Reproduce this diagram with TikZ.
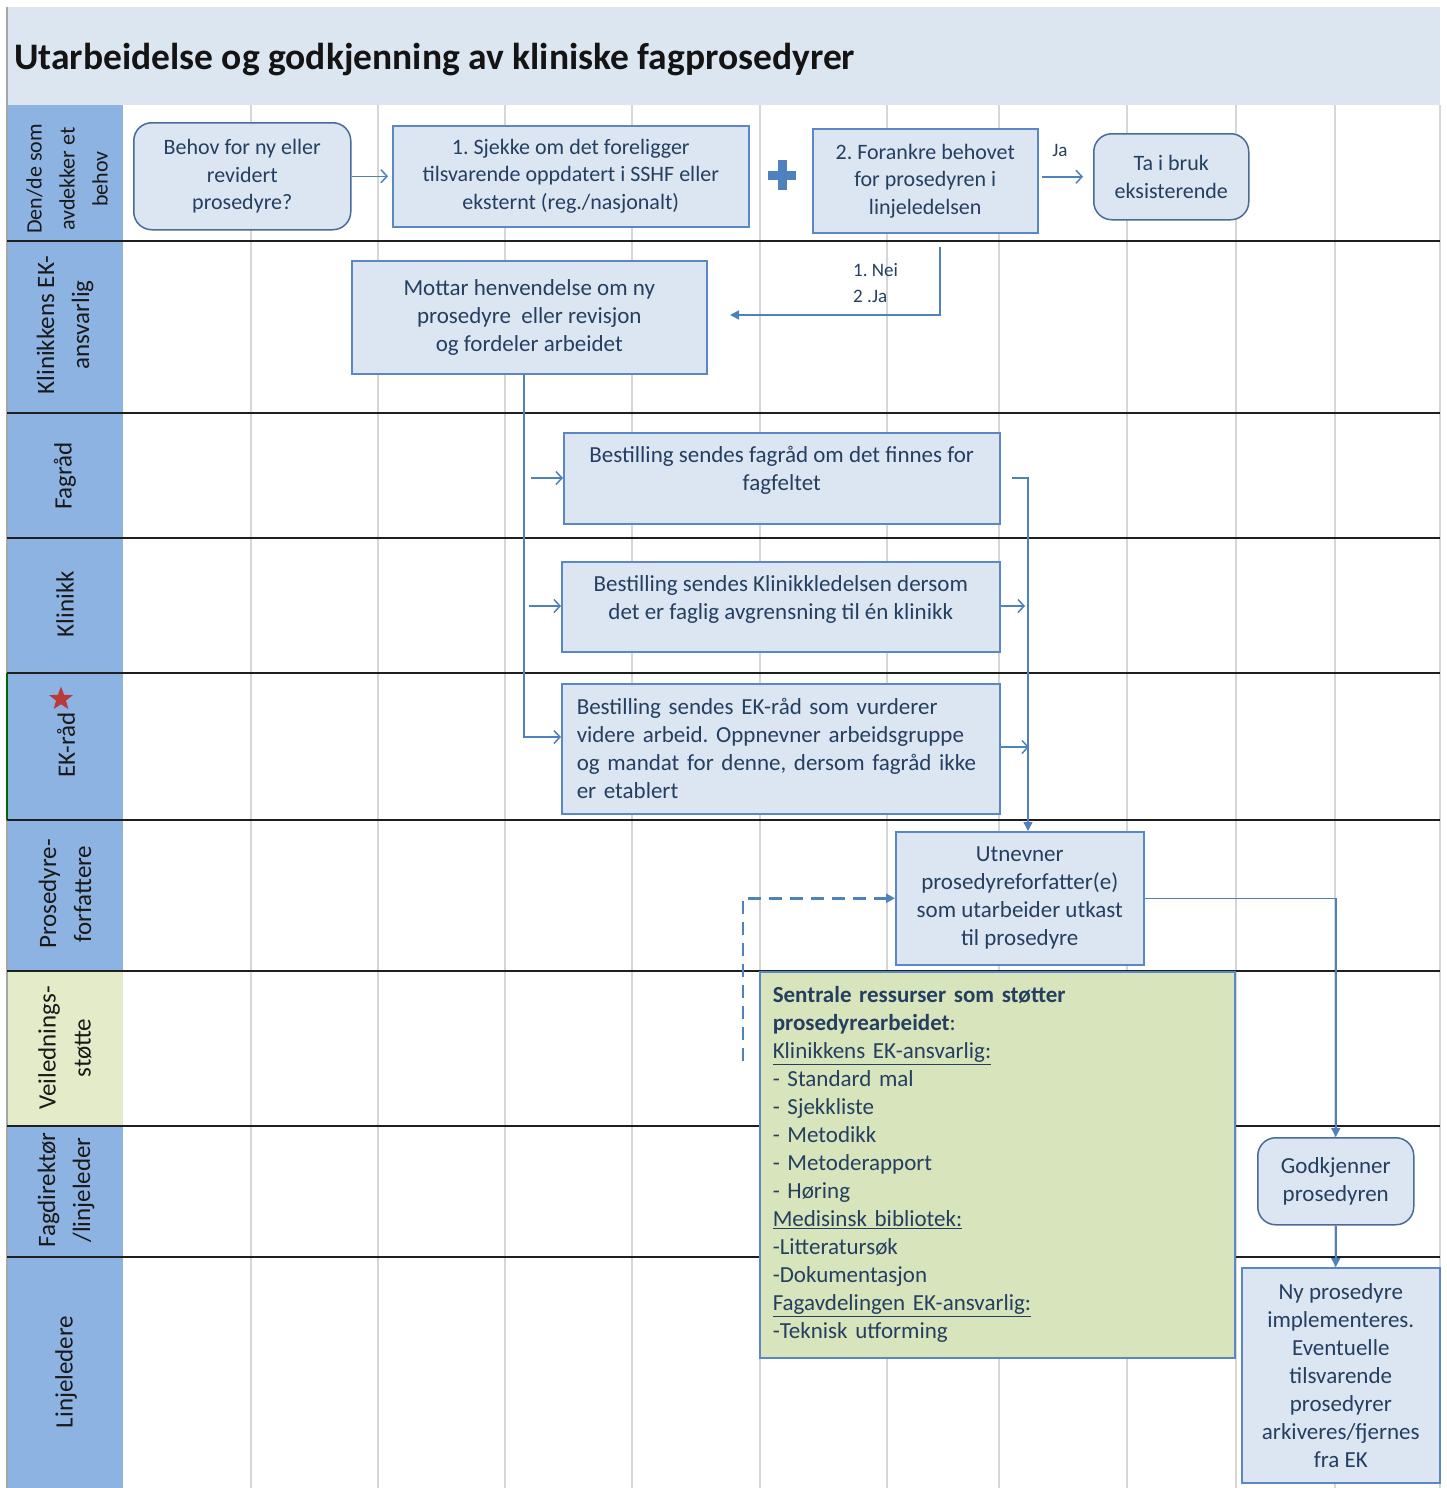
\documentclass[tikz,border=0pt]{standalone}
\usepackage{fontspec}
\setmainfont{Carlito}
\usetikzlibrary{arrows.meta,shapes.geometric}
\definecolor{hdr}{HTML}{DCE6F1}
\definecolor{lanebg}{HTML}{8DB3E2}
\definecolor{lanegreen}{HTML}{E3EBC9}
\definecolor{boxfill}{HTML}{DCE6F2}
\definecolor{boxline}{HTML}{5B87C5}
\definecolor{rboxline}{HTML}{4A6A98}
\definecolor{conn}{HTML}{4F81BD}
\definecolor{txtc}{HTML}{243F60}
\definecolor{gridc}{HTML}{D6D6D6}
\definecolor{greenbox}{HTML}{D8E4BC}
\definecolor{starred}{HTML}{B83A3A}
\frenchspacing
\begin{document}
\begin{tikzpicture}[x=1pt,y=-1pt,
  boxtxt/.style={font=\fontsize{23}{28}\selectfont, text=txtc},
  toptxt/.style={font=\fontsize{22}{27.5}\selectfont},
  pbox/.style={boxtxt, draw=boxline, fill=boxfill, line width=1.5pt, inner sep=0pt, anchor=north west, align=center},
  rbox/.style={pbox, draw=rboxline, rounded corners=18pt},
  lanelbl/.style={font=\fontsize{25}{35}\selectfont, text=black!90, rotate=90, align=center, inner sep=0pt},
  conline/.style={draw=conn, line width=1.5pt},
  openarr/.style={conline, -{Straight Barb[length=6pt,width=13pt,line width=1.5pt]}},
  fillarr/.style={conline, -{Triangle[length=9pt,width=9pt]}},
  laneline/.style={draw=black!88, line width=2pt},
  gridline/.style={draw=gridc, line width=2pt},
  smalltxt/.style={font=\fontsize{19}{26}\selectfont, text=txtc, inner sep=0pt},
]
\useasboundingbox (0,0) rectangle (1446,1488);
\fill[white] (0,0) rectangle (1446,1488);
% header
\fill[hdr] (7,7) rectangle (1440,105);
\node[anchor=west, inner sep=0pt, font=\fontsize{37.5}{42}\selectfont\bfseries, text=black!92] (title) at (14,60) {Utarbeidelse og godkjenning av kliniske fagprosedyrer};
% grid
\foreach \gx in {251,378,505,632,760,887,999,1127,1236,1335,1440}{\draw[gridline] (\gx,105) -- (\gx,1488);}
% lane column
\fill[lanebg] (7,105) rectangle (123,1488);
\fill[lanegreen] (7,971) rectangle (123,1126);
\draw[line width=1.5pt, draw=black!35] (7,7) -- (7,1488);
\draw[line width=1.5pt, draw=green!40!black] (7,673) -- (7,820);
% lane lines
\foreach \ly in {241,413,538,673,820,971,1126,1257}{\draw[laneline] (7,\ly) -- (1440,\ly);}
% lane labels
\node[lanelbl, font=\fontsize{22}{33}\selectfont] (l1) at (67,179) {Den/de som\\avdekker et\\behov};
\node[lanelbl] (l2) at (65,325) {Klinikkens EK-\\ansvarlig};
\node[lanelbl] (l3) at (65,476) {Fagråd};
\node[lanelbl] (l4) at (65,604) {Klinikk};
\node[lanelbl] (l5) at (66,745) {EK-råd};
\node[star, star points=5, star point ratio=2.4, fill=starred, minimum size=25pt, inner sep=0pt] (star) at (61,699) {};
\node[lanelbl] (l6) at (65,894) {Prosedyre-\\forfattere};
\node[lanelbl] (l7) at (65,1048) {Veilednings-\\støtte};
\node[lanelbl] (l8) at (66,1190) {Fagdirektør\\/linjeleder};
\node[lanelbl] (l9) at (66,1372) {Linjeledere};
% boxes
\node[rbox, toptxt, minimum width=217pt, minimum height=107pt] (behov) at (133,122) {Behov for ny eller\\revidert\\prosedyre?};
\node[pbox, toptxt, minimum width=356pt, minimum height=101pt] (sjekke) at (392,125) {1. Sjekke om det foreligger\\tilsvarende oppdatert i SSHF eller\\eksternt (reg./nasjonalt)};
\fill[conn] (777.5,160) rectangle (786.5,190);
\fill[conn] (768,170.5) rectangle (796,179.5);
\node[pbox, toptxt, minimum width=225pt, minimum height=104pt] (forankre) at (812,128) {2. Forankre behovet\\for prosedyren i\\linjeledelsen};
\node[rbox, toptxt, minimum width=155pt, minimum height=86pt] (tabruk) at (1093,133) {Ta i bruk\\eksisterende};
\node[pbox, minimum width=355pt, minimum height=113pt] (mottar) at (351,260) {Mottar henvendelse om ny\\prosedyre\ \ eller revisjon\\og fordeler arbeidet};
\node[pbox, minimum width=436pt, minimum height=91pt, text depth=19pt] (fagrad) at (563,432) {Bestilling sendes fagråd om det finnes for\\fagfeltet};
\node[pbox, minimum width=438pt, minimum height=90pt, text depth=19pt] (klinikk) at (561,561) {Bestilling sendes Klinikkledelsen dersom\\det er faglig avgrensning til én klinikk};
\node[pbox, minimum width=438pt, minimum height=130pt, align=left, inner xsep=15pt, text width=408pt] (ekrad) at (561,683) {Bestilling sendes EK-råd som vurderer\\videre arbeid. Oppnevner arbeidsgruppe\\og mandat for denne, dersom fagråd ikke\\er etablert};
\node[pbox, minimum width=248pt, minimum height=133pt] (utnevner) at (895,831) {Utnevner\\prosedyreforfatter(e)\\som utarbeider utkast\\til prosedyre};
\node[pbox, fill=greenbox, minimum width=475pt, minimum height=386pt, align=left, inner xsep=13pt, text width=449pt] (ressurs) at (759,971) {\textbf{Sentrale ressurser som støtter}\\\textbf{prosedyrearbeidet}:\\\underline{Klinikkens EK-ansvarlig:}\\- Standard mal\\- Sjekkliste\\- Metodikk\\- Metoderapport\\- Høring\\\underline{Medisinsk bibliotek:}\\-Litteratursøk\\-Dokumentasjon\\\underline{Fagavdelingen EK-ansvarlig:}\\-Teknisk utforming};
\node[rbox, minimum width=156pt, minimum height=87pt] (godk) at (1257,1137) {Godkjenner\\prosedyren};
\node[pbox, minimum width=198pt, minimum height=215pt] (ny) at (1241,1267) {Ny prosedyre\\implementeres.\\Eventuelle\\tilsvarende\\prosedyrer\\arkiveres/fjernes\\fra EK};
% connectors
\draw[openarr, shorten >=4pt] (behov.east) -- (sjekke.west);
\draw[openarr, shorten <=3pt, shorten >=10pt] (forankre.east |- tabruk.west) -- (tabruk.west);
\node[smalltxt] (ja) at (1060,150) {Ja};
\coordinate (neiTop) at (940,247);
\coordinate (neiEnd) at (730,315);
\draw[fillarr] (neiTop) |- (neiEnd);
\node[smalltxt, anchor=west, align=left] (neilbl) at (853,283) {1. Nei\\2 .Ja};
\coordinate (tr) at (524,737);
\draw[openarr] (mottar.south -| tr) -- (tr) -- (ekrad.west |- tr);
\coordinate (b1) at (531,478);
\coordinate (b2) at (529,606);
\draw[openarr] (b1) -- (fagrad.west |- b1);
\draw[openarr] (b2) -- (klinikk.west |- b2);
\coordinate (r1) at (1012,478);
\coordinate (rc) at (1028,478);
\draw[fillarr] (r1) -- (rc) -- (utnevner.north -| rc);
\coordinate (r2) at (1025,606);
\draw[openarr] (klinikk.east |- r2) -- (r2);
\coordinate (r3) at (1029,747);
\draw[openarr] (ekrad.east |- r3) -- (r3);
\coordinate (dsh) at (743,1061);
\draw[fillarr, dash pattern=on 13pt off 8pt, line width=2.5pt] (dsh) |- (utnevner.west);
\draw[fillarr] (utnevner.east) -| (godk.north);
\draw[fillarr] (godk.south) -- (godk.south |- ny.north);
\end{tikzpicture}
\end{document}
